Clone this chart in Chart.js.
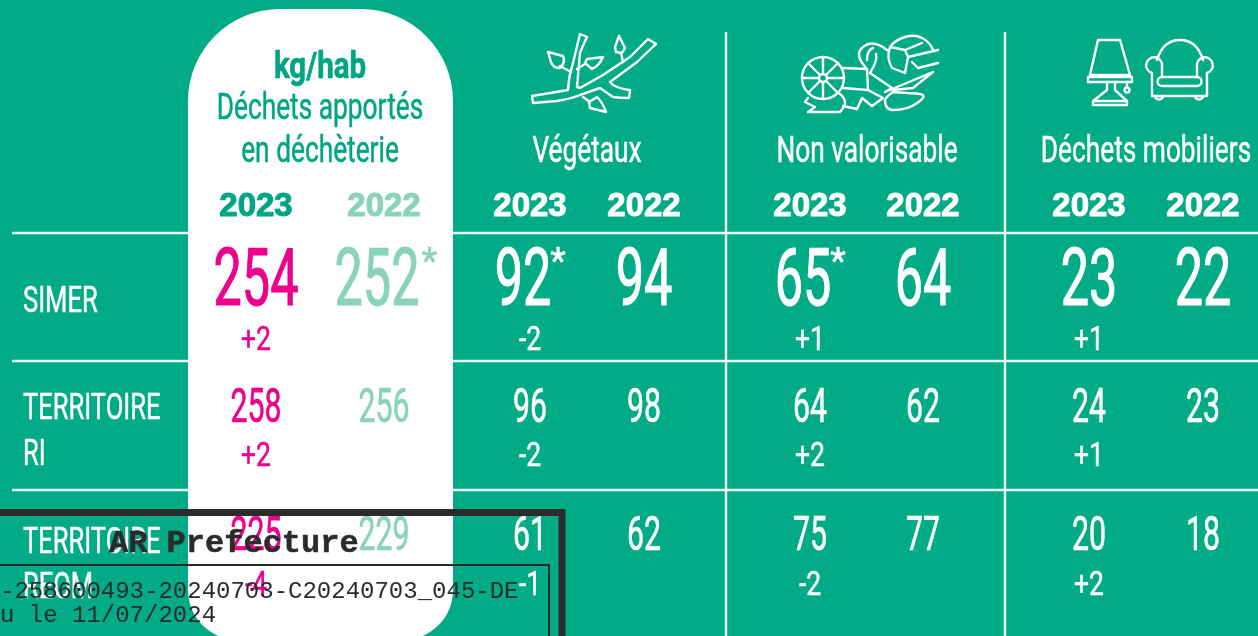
<!DOCTYPE html>
<html lang="fr">
<head>
<meta charset="utf-8">
<title>Déchets apportés en déchèterie</title>
<style>
  html, body { margin: 0; padding: 0; background: #00ab85; overflow: hidden; }
  canvas { display: block; }
</style>
<script src="https://cdn.jsdelivr.net/npm/chart.js@4/dist/chart.umd.min.js"></script>
</head>
<body>
<canvas id="wasteChart" width="1258" height="636"></canvas>
<script>
// kg/hab
const territories = ['SIMER', 'TERRITOIRE RI', 'TERRITOIRE REOM'];
const years = ['2023', '2022'];

const total2023 = [254, 258, 225];
const total2022 = [252, 256, 229];
const totalDelta = ['+2', '+2', '-4'];

const vegetaux2023 = [92, 96, 61];
const vegetaux2022 = [94, 98, 62];
const vegetauxDelta = ['-2', '-2', '-1'];

const nonValorisable2023 = [65, 64, 75];
const nonValorisable2022 = [64, 62, 77];
const nonValorisableDelta = ['+1', '+2', '-2'];

const mobiliers2023 = [23, 24, 20];
const mobiliers2022 = [22, 23, 18];
const mobiliersDelta = ['+1', '+1', '+2'];

// values carrying a footnote star
const total2022Notes = ['*', '', ''];
const vegetaux2023Notes = ['*', '', ''];
const nonValorisable2023Notes = ['*', '', ''];

const stampTitle = 'AR Prefecture';
const stampLines = ['-258600493-20240703-C20240703_045-DE', 'u le 11/07/2024'];

// layout
const GREEN = '#00ab85';
const DARK = '#00a584';
const PINK = '#ec008c';
const PALE = '#8ad2bc';
const INK = '#2b2b2b';
const valueY = [305, 422, 550];
const deltaY = [350, 466, 595];
const valueSize = [80, 48, 48];
const deltaSize = 34;
const SQUEEZE = 0.63;
const NOTE_SHIFT = 7; // a starred number sits a little left of its column

function makeSeries(label, x, values, color, notes) {
    return {
        label: label,
        data: values.map((v, i) => {
            const note = notes ? notes[i] : '';
            return { x: note ? x - NOTE_SHIFT : x, y: valueY[i], text: String(v), note: note, size: valueSize[i] };
        }),
        cellColor: color,
        pointRadius: 0,
        showLine: false
    };
}

function makeDeltas(label, x, values, color) {
    return {
        label: label,
        data: values.map((v, i) => ({ x: x, y: deltaY[i], text: v, note: '', size: deltaSize, squeeze: 0.78 })),
        cellColor: color,
        pointRadius: 0,
        showLine: false
    };
}

function makeRule(x1, y1, x2, y2) {
    return {
        label: 'rule',
        data: [{ x: x1, y: y1 }, { x: x2, y: y2 }],
        showLine: true,
        borderColor: '#eef8f5',
        borderWidth: 2.4,
        pointRadius: 0
    };
}

function drawText(ctx, text, x, y, size, color, opts) {
    const o = opts || {};
    ctx.save();
    ctx.font = (o.weight || 400) + ' ' + size + 'px ' + (o.family || 'Roboto');
    ctx.fillStyle = color;
    ctx.textBaseline = 'alphabetic';
    ctx.textAlign = o.align || 'center';
    ctx.translate(x, y);
    ctx.scale(o.squeeze || SQUEEZE, 1);
    ctx.fillText(text, 0, 0);
    const outline = o.outline === undefined ? size * 0.014 : o.outline;
    if (outline) {
        ctx.strokeStyle = color;
        ctx.lineWidth = outline;
        ctx.lineJoin = 'round';
        ctx.strokeText(text, 0, 0);
    }
    ctx.restore();
}

const iconPaths = [
    // branch
    'M532 96 L550 93 L568 90 Q569 75 572 67 L580 34 L587 37 Q581 50 580 53 L577 87 L580 88 L603 75 L630 57 L648 39 L656 44 L637 62 L610 82 L613 85 Q620 89 630 90 L629 98 Q620 98 613 97 L600 88 L580 95 Q570 99 557 101 L533 103 Z',
    'M548 52 L563 56 Q566 62 560 68 Q553 68 551 62 Z M560 66 L571 72',
    'M603 57 L587 59 L585 63 L592 69 Q599 66 603 57 Z M585 64 L577 69',
    'M619 36 L625 48 L622 53 L616 52 L615 47 Z M621 53 L623 62',
    'M606 112 L590 108 L589 102 L597 97 Q603 103 606 112 Z M590 102 L583 97',
    // heap of rubbish
    'M844 78 A21 21 0 1 1 802 78 A21 21 0 1 1 844 78 Z M827 78 A4 4 0 1 1 819 78 A4 4 0 1 1 827 78 Z',
    'M802 78 L819 78 M827 78 L844 78 M823 57 L823 74 M823 82 L823 99 M808 63 L820 75 M826 81 L838 93 M838 63 L826 75 M820 81 L808 93',
    'M843 68 L867 69 L868 90 L843 88 M868 90 L883 98 L872 106 L862 98 L857 109 L843 106',
    'M808 98 L805 102 L815 107 L808 112 L840 112 Q846 105 845 103 Q845 98 840 94',
    'M867 69 Q854 55 862 48 Q872 38 887 50 M867 60 Q867 50 873 48 M870 73 Q878 60 876 54',
    'M890 47 Q895 40 905 37 Q915 34 922 38 Q930 42 933 50 M890 47 L905 50 L922 43 M905 50 L908 57 L905 73 L892 68 Q886 58 890 47 M908 57 L938 50 M912 62 L918 68 L938 63',
    'M870 73 L892 88 L885 92 L933 72 L913 88 L893 90',
    'M893 92 Q884 98 885 102 Q886 110 893 110 Q908 110 917 103 Q925 98 923 95 Q918 93 907 93 Z',
    // lamp
    'M1098 40 L1120 40 L1130 75 L1090 75 Z M1088 77 L1132 77 L1132 82 L1088 82 Z',
    'M1107 82 L1107 90 L1093 101 M1115 82 L1115 90 L1127 101 M1093 101 L1127 101 L1127 105 L1093 105 Z',
    'M1127 82 L1127 87 M1129.5 90 A2.5 2.5 0 1 1 1124.5 90 A2.5 2.5 0 1 1 1129.5 90 Z',
    // armchair
    'M1157 60 Q1163 40 1180 40 Q1197 40 1203 60 M1152 73 A8 8 0 1 1 1162 67 L1162 77 M1197 77 L1197 67 A8 8 0 1 1 1207 73',
    'M1152 73 L1152 96 L1207 96 L1207 73 M1162 77 L1197 77 A4.5 4.5 0 0 1 1197 86 L1162 86 A4.5 4.5 0 0 1 1162 77',
    'M1155 97 A4.5 4.5 0 0 0 1163 97 M1195 97 A4.5 4.5 0 0 0 1203 97'
];

const tablePlugin = {
    id: 'tablePlugin',
    beforeDatasetsDraw(chart) {
        const ctx = chart.ctx;
        const x = chart.scales.x;
        const y = chart.scales.y;
        ctx.save();
        ctx.fillStyle = GREEN;
        ctx.fillRect(0, 0, chart.width, chart.height);
        ctx.restore();

        // white column behind the totals
        ctx.save();
        ctx.fillStyle = '#ffffff';
        ctx.beginPath();
        ctx.roundRect(x.getPixelForValue(188), y.getPixelForValue(9), 265, 631, [92, 92, 50, 50]);
        ctx.fill();
        ctx.restore();
    },
    afterDatasetsDraw(chart) {
        const ctx = chart.ctx;
        const sx = chart.scales.x;
        const sy = chart.scales.y;

        // header texts
        const heading = { squeeze: 0.73 };
        drawText(ctx, 'kg/hab', 320, 78, 36, DARK, { weight: 700, squeeze: 0.82, outline: 0.6 });
        drawText(ctx, 'Déchets apportés', 320, 119, 36, DARK, heading);
        drawText(ctx, 'en déchèterie', 320, 162, 36, DARK, heading);
        drawText(ctx, 'Végétaux', 587, 162, 36, '#ffffff', heading);
        drawText(ctx, 'Non valorisable', 867, 162, 36, '#ffffff', heading);
        drawText(ctx, 'Déchets mobiliers', 1146, 162, 36, '#ffffff', heading);

        const yearFont = { weight: 700, family: '"Liberation Sans"', squeeze: 1, outline: 1 };
        drawText(ctx, years[0], 256, 216, 33, DARK, yearFont);
        drawText(ctx, years[1], 384, 216, 33, PALE, yearFont);
        [[530, 644], [810, 923], [1089, 1203]].forEach(pair => {
            drawText(ctx, years[0], pair[0], 216, 33, '#ffffff', yearFont);
            drawText(ctx, years[1], pair[1], 216, 33, '#ffffff', yearFont);
        });

        // row labels
        const rowFont = { align: 'left', squeeze: 0.69 };
        drawText(ctx, territories[0], 23, 312, 37, '#ffffff', rowFont);
        const ri = territories[1].split(' ');
        drawText(ctx, ri[0], 23, 419, 37, '#ffffff', rowFont);
        drawText(ctx, ri[1], 23, 465, 37, '#ffffff', rowFont);
        const reom = territories[2].split(' ');
        drawText(ctx, reom[0], 23, 553, 37, '#ffffff', rowFont);
        drawText(ctx, reom[1], 23, 598, 37, '#ffffff', rowFont);

        // every table value comes from the datasets
        chart.data.datasets.forEach(ds => {
            if (!ds.cellColor) return;
            ds.data.forEach(cell => {
                const px = sx.getPixelForValue(cell.x);
                const py = sy.getPixelForValue(cell.y);
                drawText(ctx, cell.text, px, py, cell.size, ds.cellColor, { squeeze: cell.squeeze || SQUEEZE });
                if (cell.note) {
                    drawText(ctx, cell.note, px + cell.text.length * 17.5, py - 32, 36, ds.cellColor, { squeeze: 1 });
                }
            });
        });

        // pictograms
        ctx.save();
        ctx.strokeStyle = '#ffffff';
        ctx.lineWidth = 2.4;
        ctx.lineJoin = 'round';
        ctx.lineCap = 'round';
        iconPaths.forEach(d => ctx.stroke(new Path2D(d)));
        ctx.restore();

        // stamp laid over the table
        ctx.save();
        ctx.strokeStyle = INK;
        ctx.lineWidth = 7;
        ctx.strokeRect(-10, 512.5, 572, 200);
        ctx.lineWidth = 2;
        ctx.strokeRect(-10, 565, 559, 200);
        ctx.restore();
        const stamp = { family: '"Liberation Mono"', align: 'left', squeeze: 1, outline: 0 };
        drawText(ctx, stampTitle, 109, 552, 32, INK, Object.assign({}, stamp, { weight: 700, outline: 0.5 }));
        drawText(ctx, stampLines[0], 0, 598, 24, INK, stamp);
        drawText(ctx, stampLines[1], 0, 622, 24, INK, stamp);
    }
};

const wasteChart = new Chart(document.getElementById('wasteChart').getContext('2d'), {
    type: 'scatter',
    data: {
        datasets: [
            makeRule(12, 233, 188, 233), makeRule(453, 233, 1258, 233),
            makeRule(12, 361, 188, 361), makeRule(453, 361, 1258, 361),
            makeRule(12, 490, 188, 490), makeRule(453, 490, 1258, 490),
            makeRule(726, 32, 726, 636), makeRule(1005, 32, 1005, 636),
            makeSeries('Total 2023', 256, total2023, PINK),
            makeSeries('Total 2022', 384, total2022, PALE, total2022Notes),
            makeDeltas('Total écart', 256, totalDelta, PINK),
            makeSeries('Végétaux 2023', 530, vegetaux2023, '#ffffff', vegetaux2023Notes),
            makeSeries('Végétaux 2022', 644, vegetaux2022, '#ffffff'),
            makeDeltas('Végétaux écart', 530, vegetauxDelta, '#ffffff'),
            makeSeries('Non valorisable 2023', 810, nonValorisable2023, '#ffffff', nonValorisable2023Notes),
            makeSeries('Non valorisable 2022', 923, nonValorisable2022, '#ffffff'),
            makeDeltas('Non valorisable écart', 810, nonValorisableDelta, '#ffffff'),
            makeSeries('Mobiliers 2023', 1089, mobiliers2023, '#ffffff'),
            makeSeries('Mobiliers 2022', 1203, mobiliers2022, '#ffffff'),
            makeDeltas('Mobiliers écart', 1089, mobiliersDelta, '#ffffff')
        ]
    },
    options: {
        responsive: false,
        animation: false,
        layout: { padding: 0 },
        plugins: { legend: { display: false }, tooltip: { enabled: false } },
        scales: {
            x: { type: 'linear', min: 0, max: 1258, display: false },
            y: { type: 'linear', min: 0, max: 636, reverse: true, display: false }
        }
    },
    plugins: [tablePlugin]
});
</script>
</body>
</html>
